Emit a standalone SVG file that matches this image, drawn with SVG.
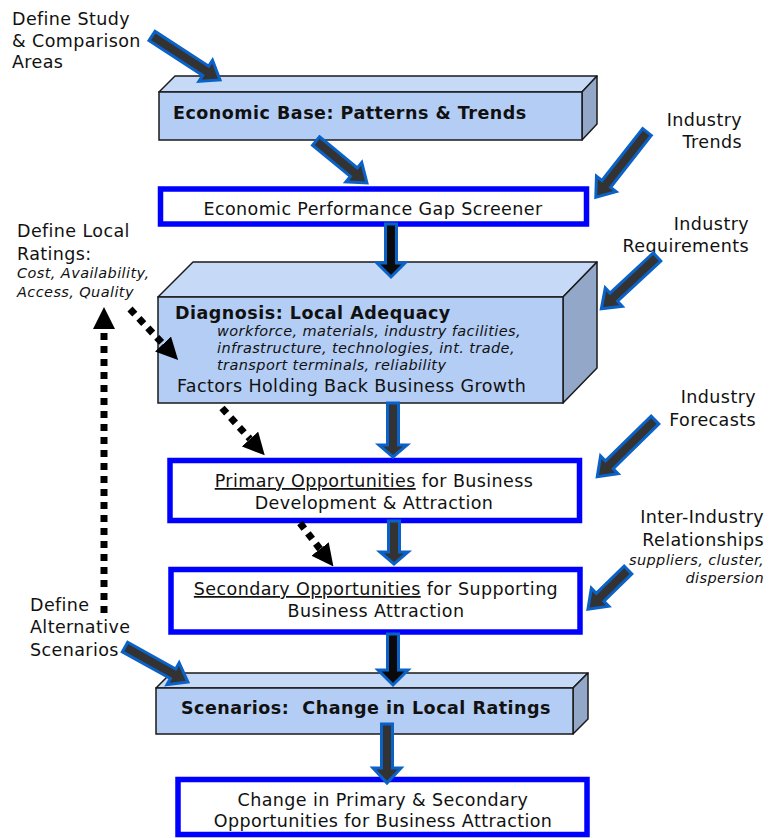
<svg xmlns="http://www.w3.org/2000/svg" width="778" height="838" viewBox="0 0 778 838">
<style>
text{font-family:"DejaVu Sans","Liberation Sans",sans-serif;fill:#111}
.lbl{font-size:17.5px;letter-spacing:0.4px}
.it{font-size:14.5px;font-style:italic;letter-spacing:0.4px}
.b{font-size:17.5px;font-weight:bold;letter-spacing:0.5px}
.box{fill:#fff;stroke:#0000ff;stroke-width:5.5}
.front{fill:#b4cdf4;stroke:#1a1a1a;stroke-width:1.5}
.top{fill:#c6daf8;stroke:#1a1a1a;stroke-width:1.5;stroke-linejoin:round}
.side{fill:#93a8c8;stroke:#1a1a1a;stroke-width:1.5;stroke-linejoin:round}
.ba{fill:#333;stroke:#0a62c8;stroke-width:3;stroke-linejoin:miter}
.bk{fill:#0a0a0a}
.dot{fill:none;stroke:#000;stroke-width:7;stroke-dasharray:7 6}
</style>
<defs>
<marker id="dh" viewBox="0 0 22 22" refX="0" refY="11" markerWidth="22" markerHeight="22" markerUnits="userSpaceOnUse" orient="auto">
<path d="M0,0 L22,11 L0,22 Z" fill="#000"/>
</marker>
</defs>

<g id="econ-base">
<polygon class="top" points="159,92 175,76 597,76 582,92"/>
<polygon class="side" points="582,92 597,76 597,124 582,140"/>
<rect class="front" x="159" y="92" width="423" height="48"/>
<text class="b" x="173" y="119">Economic Base: Patterns &amp; Trends</text>
</g>

<g id="gap-screener">
<rect class="box" x="160.5" y="189" width="426" height="35"/>
<text class="lbl" x="373" y="215" text-anchor="middle">Economic Performance Gap Screener</text>
</g>

<g id="diagnosis">
<polygon class="top" points="158,297 193,262 597,262 563,297"/>
<polygon class="side" points="563,297 597,262 597,368 563,403"/>
<rect class="front" x="158" y="297" width="405" height="106"/>
<text class="b" x="175" y="319">Diagnosis: Local Adequacy</text>
<text class="it" x="217" y="336">workforce, materials, industry facilities,</text>
<text class="it" x="217" y="353">infrastructure, technologies, int. trade,</text>
<text class="it" x="217" y="370">transport terminals, reliability</text>
<text class="lbl" x="177" y="392">Factors Holding Back Business Growth</text>
</g>

<g id="primary">
<rect class="box" x="170" y="460.5" width="409.5" height="60"/>
<text class="lbl" x="374" y="487" text-anchor="middle"><tspan text-decoration="underline">Primary Opportunities</tspan> for Business</text>
<text class="lbl" x="374" y="509" text-anchor="middle">Development &amp; Attraction</text>
</g>

<g id="secondary">
<rect class="box" x="171" y="569.5" width="409" height="62.5"/>
<text class="lbl" x="376" y="595" text-anchor="middle"><tspan text-decoration="underline">Secondary Opportunities</tspan> for Supporting</text>
<text class="lbl" x="376" y="617" text-anchor="middle">Business Attraction</text>
</g>

<g id="scenarios">
<polygon class="top" points="156,688 171,673 588,673 573,688"/>
<polygon class="side" points="573,688 588,673 588,719 573,734"/>
<rect class="front" x="156" y="688" width="417" height="46"/>
<text class="b" x="181" y="714" xml:space="preserve">Scenarios:  Change in Local Ratings</text>
</g>

<g id="change">
<rect class="box" x="178" y="779.5" width="409" height="55"/>
<text class="lbl" x="383" y="806" text-anchor="middle">Change in Primary &amp; Secondary</text>
<text class="lbl" x="383" y="827" text-anchor="middle">Opportunities for Business Attraction</text>
</g>

<g id="label-study">
<text class="lbl" x="12" y="25">Define Study</text>
<text class="lbl" x="12" y="47">&amp; Comparison</text>
<text class="lbl" x="12" y="68">Areas</text>
</g>
<g id="label-trends">
<text class="lbl" x="742" y="126" text-anchor="end">Industry</text>
<text class="lbl" x="742" y="148" text-anchor="end">Trends</text>
</g>
<g id="label-requirements">
<text class="lbl" x="749" y="230" text-anchor="end">Industry</text>
<text class="lbl" x="749" y="252" text-anchor="end">Requirements</text>
</g>
<g id="label-local-ratings">
<text class="lbl" x="17" y="237">Define Local</text>
<text class="lbl" x="17" y="260">Ratings:</text>
<text class="it" x="17" y="278">Cost, Availability,</text>
<text class="it" x="17" y="297">Access, Quality</text>
</g>
<g id="label-forecasts">
<text class="lbl" x="756" y="403" text-anchor="end">Industry</text>
<text class="lbl" x="756" y="426" text-anchor="end">Forecasts</text>
</g>
<g id="label-inter-industry">
<text class="lbl" x="764" y="523" text-anchor="end">Inter-Industry</text>
<text class="lbl" x="764" y="546" text-anchor="end">Relationships</text>
<text class="it" x="764" y="565" text-anchor="end">suppliers, cluster,</text>
<text class="it" x="764" y="583" text-anchor="end">dispersion</text>
</g>
<g id="label-alt-scenarios">
<text class="lbl" x="30" y="611">Define</text>
<text class="lbl" x="30" y="633">Alternative</text>
<text class="lbl" x="30" y="656">Scenarios</text>
</g>

<g id="connectors">
<path class="ba" transform="translate(152,36) rotate(32.9)" d="M0,-5.5 H64 V-12.5 L81,0 L64,12.5 V5.5 H0 Z"/>
<path class="ba" transform="translate(316,141) rotate(39.5)" d="M0,-5.5 H49 V-12.5 L66,0 L49,12.5 V5.5 H0 Z"/>
<path class="ba" transform="translate(647,132) rotate(128.1)" d="M0,-5.5 H66 V-12.5 L83,0 L66,12.5 V5.5 H0 Z"/>
<path class="ba" transform="translate(657,257) rotate(137.1)" d="M0,-5.5 H59 V-12.5 L76,0 L59,12.5 V5.5 H0 Z"/>
<path class="ba" transform="translate(655,420) rotate(135.5)" d="M0,-5.5 H64 V-12.5 L81,0 L64,12.5 V5.5 H0 Z"/>
<path class="ba" transform="translate(628,570) rotate(135.7)" d="M0,-5.5 H39 V-12.5 L56,0 L39,12.5 V5.5 H0 Z"/>
<path class="ba" transform="translate(125,647) rotate(29.1)" d="M0,-5.5 H55 V-12.5 L72,0 L55,12.5 V5.5 H0 Z"/>
<path class="ba bk" d="M385.5,224 H396.5 V263 H405 L391,277 L377,263 H385.5 Z"/>
<path class="ba" d="M387.5,403 H398.5 V445 H407 L393,457 L379,445 H387.5 Z"/>
<path class="ba" d="M388.5,521 H399.5 V552 H408 L394,564 L380,552 H388.5 Z"/>
<path class="ba bk" d="M387.5,634 H398.5 V670 H408 L393,685 L378,670 H387.5 Z"/>
<path class="ba" d="M381.5,724 H392.5 V768 H401 L387,783 L373,768 H381.5 Z"/>
<path class="dot" d="M104,613 V329" marker-end="url(#dh)"/>
<path class="dot" d="M130,309 L163,344" marker-end="url(#dh)"/>
<path class="dot" d="M222,408 L250,439" marker-end="url(#dh)"/>
<path class="dot" d="M300,523 L320,549" marker-end="url(#dh)"/>
</g>
</svg>
